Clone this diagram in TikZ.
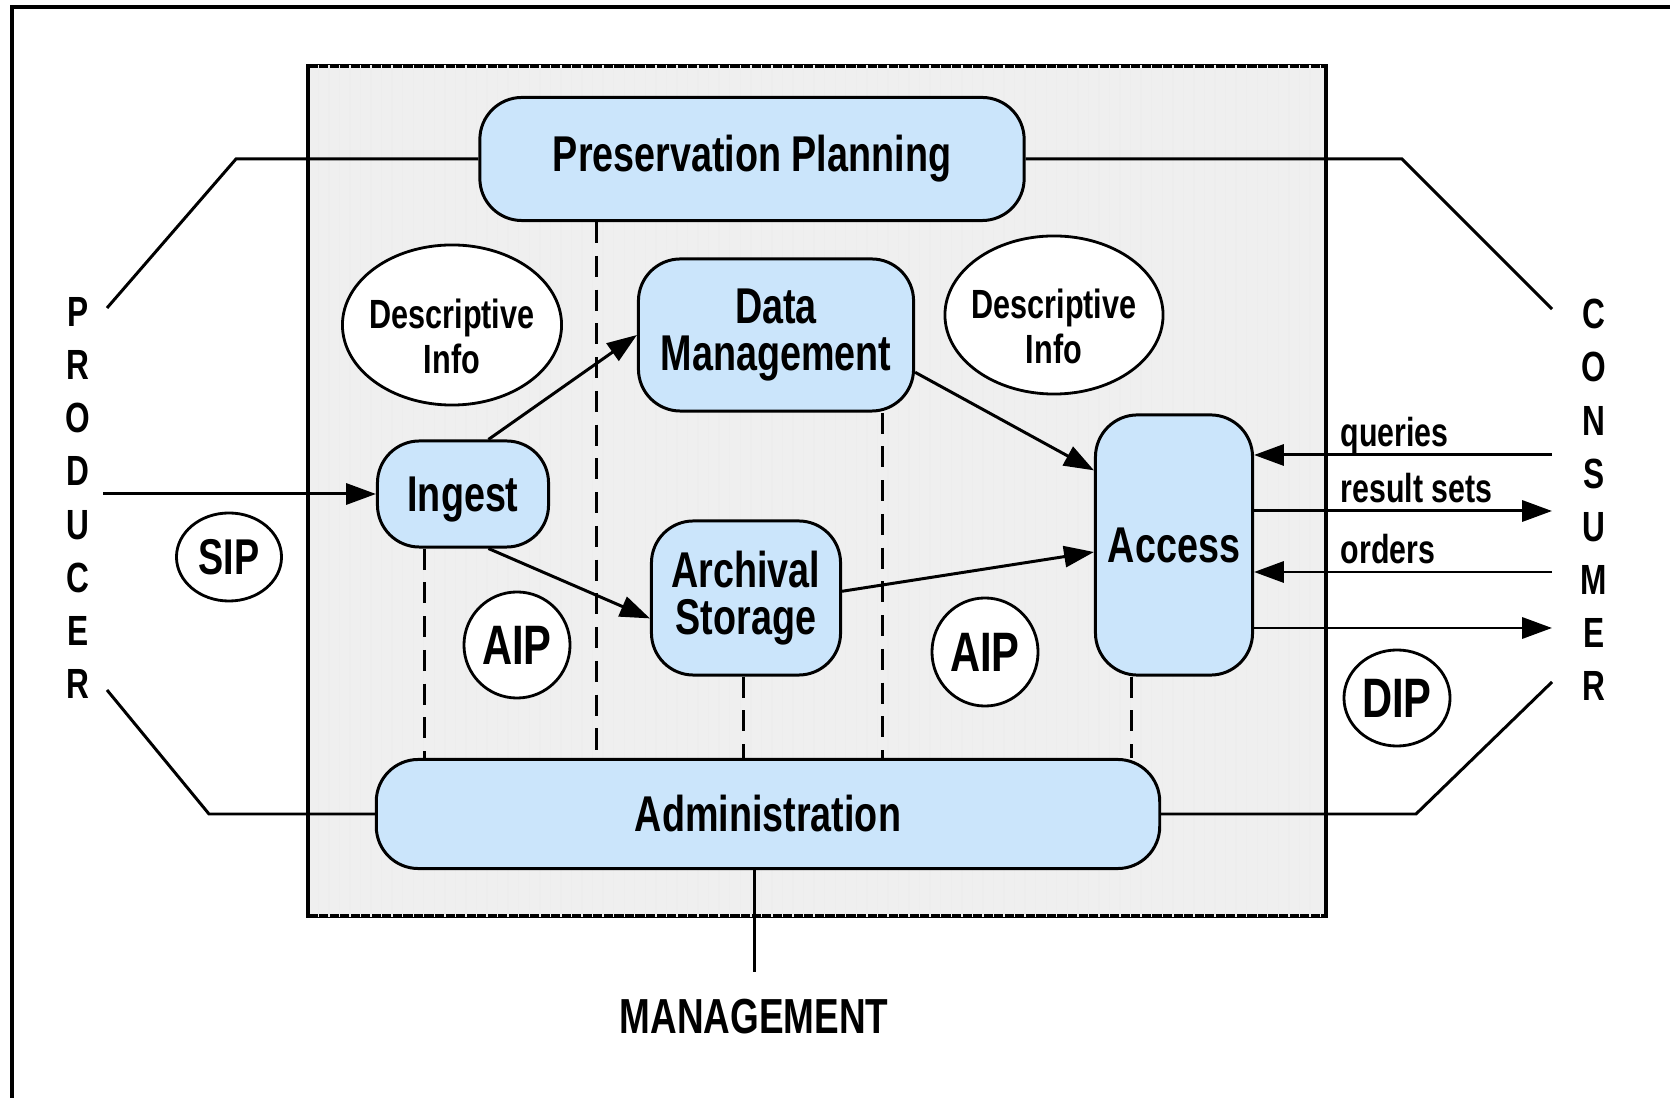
\documentclass[tikz,border=0pt]{standalone}
\usepackage{fontspec}
\setmainfont{Liberation Sans}[FakeStretch=0.75]
\usepackage{tikz}
\usetikzlibrary{arrows.meta,shapes.geometric,patterns}
\definecolor{oaisblue}{HTML}{CBE5FB}
\definecolor{panelgray}{HTML}{EFEFEF}
\tikzset{
  modulebox/.style={
    rectangle, rounded corners=0.42cm, draw=black, fill=oaisblue,
    line width=0.85pt, align=center, inner sep=2pt,
    font=\bfseries\fontsize{14.3}{13.4}\selectfont
  },
  infobubble/.style={
    ellipse, draw=black, fill=white, line width=0.8pt,
    align=center, inner sep=0pt,
    font=\bfseries\fontsize{#1}{12.8}\selectfont
  },
  infobubble/.default=15.8,
  sidelabel/.style={
    align=center, inner sep=0pt,
    font=\bfseries\fontsize{12}{15.1}\selectfont
  },
  flowlabel/.style={
    inner sep=0pt, font=\bfseries\fontsize{11.5}{13}\selectfont
  },
  flowarrow/.style={
    -{Triangle[length=8.5pt,width=6pt]}, line width=0.85pt
  },
  linkline/.style={line width=0.85pt},
  linkdash/.style={line width=0.85pt, dash pattern=on 6pt off 3.6pt},
}

\begin{document}
\begin{tikzpicture}[x=0.01cm, y=-0.01cm]
  \useasboundingbox (0,0) rectangle (1670,1098);

  % page frame and OAIS panel
  \draw[line width=1.4pt] (12,1098) -- (12,7) -- (1670,7);
  \draw[line width=1pt, fill=panelgray] (308,66) rectangle (1326,916);
  \fill[pattern=vertical lines, pattern color=black!7] (308,66) rectangle (1326,916);

  % functional entities
  \node[modulebox, minimum width=5.44cm, minimum height=1.23cm] (pp) at (752,159) {Preservation Planning};
  \node[modulebox, minimum width=2.75cm, minimum height=1.52cm] (dm) at (776,335) {Data\\Management};
  \node[modulebox, minimum width=1.71cm, minimum height=1.06cm, text depth=0pt] (ingest) at (463,494) {Ingest};
  \node[modulebox, minimum width=1.89cm, minimum height=1.54cm] (archive) at (746,598) {Archival\\Storage};
  \node[modulebox, minimum width=1.57cm, minimum height=2.60cm] (access) at (1174,545) {Access};
  \node[modulebox, minimum width=7.83cm, minimum height=1.09cm] (admin) at (768,814) {Administration};

  % information packages
  \node[infobubble=11.6, minimum width=2.19cm, minimum height=1.60cm, inner xsep=-4pt] (descleft) at (452,325) {\rule{0pt}{14.7pt}Descriptive\\Info};
  \node[infobubble=11.6, minimum width=2.18cm, minimum height=1.58cm, inner xsep=-4pt] (descright) at (1054,315) {\rule{0pt}{14.7pt}Descriptive\\Info};
  \node[infobubble=14.3, minimum width=1.05cm, minimum height=0.88cm] (sip) at (229,557) {SIP};
  \node[infobubble, minimum width=1.06cm, minimum height=1.06cm] (aipleft) at (517,645) {AIP};
  \node[infobubble, minimum width=1.06cm, minimum height=1.08cm] (aipright) at (985,652) {AIP};
  \node[infobubble, minimum width=1.06cm, minimum height=0.96cm] (dip) at (1397,698) {DIP};

  % outside actors
  \node[sidelabel] (producer) at (78,498) {P\\R\\O\\D\\U\\C\\E\\R};
  \node[sidelabel] (consumer) at (1594,500) {C\\O\\N\\S\\U\\M\\E\\R};
  \node[font=\bfseries\fontsize{14}{16}\selectfont, inner sep=0pt] (management) at (754,1017) {MANAGEMENT};

  \coordinate (prodin) at (103,494);
  \coordinate (ptop) at (107,308);
  \coordinate (ptopbend) at (236,159);
  \coordinate (pbot) at (107,690);
  \coordinate (pbotbend) at (209,814);
  \coordinate (ctop) at (1552,309);
  \coordinate (ctopbend) at (1402,159);
  \coordinate (cbot) at (1552,682);
  \coordinate (cbotbend) at (1416,814);
  \coordinate (mgmt) at (754,972);
  \coordinate (cq) at (1552,455);
  \coordinate (cr) at (1552,511);
  \coordinate (co) at (1552,572);
  \coordinate (cd) at (1552,628);
  \coordinate (dingest) at (424,0);
  \coordinate (dpp) at (596,0);
  \coordinate (darchive) at (743,0);
  \coordinate (ddm) at (882,0);
  \coordinate (daccess) at (1131,0);

  % interface lines
  \draw[linkline] (ptop) -- (ptopbend) -- (pp.west);
  \draw[linkline] (pp.east) -- (ctopbend) -- (ctop);
  \draw[linkline] (pbot) -- (pbotbend) -- (admin.west);
  \draw[linkline] (admin.east) -- (cbotbend) -- (cbot);
  \draw[linkline] (admin.south -| mgmt) -- (mgmt);

  % administration links
  \draw[linkdash] (ingest.south -| dingest) -- (admin.north -| dingest);
  \draw[linkdash] (pp.south -| dpp) -- (admin.north -| dpp);
  \draw[linkdash] (archive.south -| darchive) -- (admin.north -| darchive);
  \draw[linkdash] (dm.south -| ddm) -- (admin.north -| ddm);
  \draw[linkdash] (access.south -| daccess) -- (admin.north -| daccess);

  % package flow
  \draw[flowarrow] (prodin) -- (ingest.west);
  \draw[flowarrow] (ingest.65) -- (dm.west);
  \draw[flowarrow] (ingest.295) -- (archive.192);
  \draw[flowarrow] (dm.345) -- (access.137);
  \draw[flowarrow] (archive.4) -- (access.185);
  \draw[flowarrow] (cq) -- (access.east |- cq);
  \draw[flowarrow] (access.east |- cr) -- (cr);
  \draw[flowarrow] (co) -- (access.east |- co);
  \draw[flowarrow] (access.east |- cd) -- (cd);

  \node[flowlabel, anchor=base west] (lblqueries) at (1340,447) {queries};
  \node[flowlabel, anchor=base west] (lblresults) at (1340,503) {result sets};
  \node[flowlabel, anchor=base west] (lblorders) at (1340,564) {orders};
\end{tikzpicture}
\end{document}
